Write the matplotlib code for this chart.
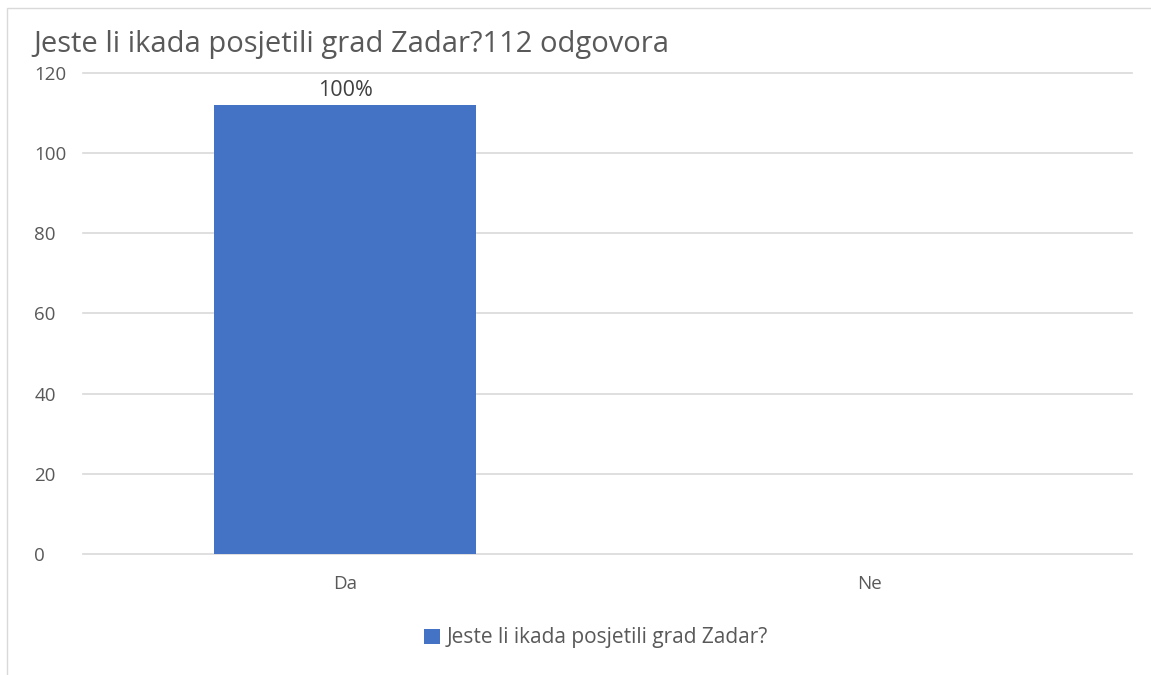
import matplotlib.pyplot as plt
from matplotlib.patches import Rectangle

categories = ["Da", "Ne"]
values = [112, 0]
bar_labels = ["100%", ""]
series_name = "Jeste li ikada posjetili grad Zadar?"
title = "Jeste li ikada posjetili grad Zadar?112 odgovora"
yticks = [0, 20, 40, 60, 80, 100, 120]

plt.rcParams['font.family'] = ['Open Sans', 'DejaVu Sans']
text_col = "#595959"
bar_col = "#4472C4"

fig = plt.figure(figsize=(11.51, 6.75), dpi=100)
ax = fig.add_axes([0.0721, 0.1793, 0.9114, 0.7126])

x = range(len(categories))
bars = ax.bar(x, values, width=0.5, color=bar_col, label=series_name, zorder=3)
for b, lab in zip(bars, bar_labels):
    if lab:
        ax.annotate(lab, (b.get_x() + b.get_width() / 2, b.get_height()),
                    xytext=(0, 6.5), textcoords="offset points",
                    ha="center", va="baseline", fontsize=15.5, color="#404040")

ax.set_xlim(-0.5, 1.5)
ax.set_ylim(0, 120)
ax.set_yticks(yticks)
ax.set_xticks(list(x))
ax.set_xticklabels(categories)
ax.yaxis.grid(True, color="#d9d9d9", linewidth=1.2, zorder=0)
for g in ax.get_ygridlines():
    g.set_clip_on(False)
for s in ax.spines.values():
    s.set_visible(False)
ax.tick_params(axis="both", length=0, colors=text_col, labelsize=13.5)
ax.tick_params(axis="y", pad=35)
ax.tick_params(axis="x", pad=15)
for t in ax.get_yticklabels():
    t.set_horizontalalignment("left")

fig.text(33 / 1151, 1 - 52 / 675, title, fontsize=21, color=text_col,
         ha="left", va="baseline")

fig.legend(handles=[bars], labels=[series_name], loc="center",
           bbox_to_anchor=(596 / 1151, 1 - 638 / 675), frameon=False,
           fontsize=15, labelcolor=text_col, handlelength=0.75,
           handleheight=0.75, handletextpad=0.3)

fig.patches.append(Rectangle((7 / 1151, -0.1), 1.2, 1 - 8 / 675 + 0.1,
                             transform=fig.transFigure, fill=False,
                             edgecolor="#d9d9d9", linewidth=1))

fig.savefig("out.png", dpi=100)
